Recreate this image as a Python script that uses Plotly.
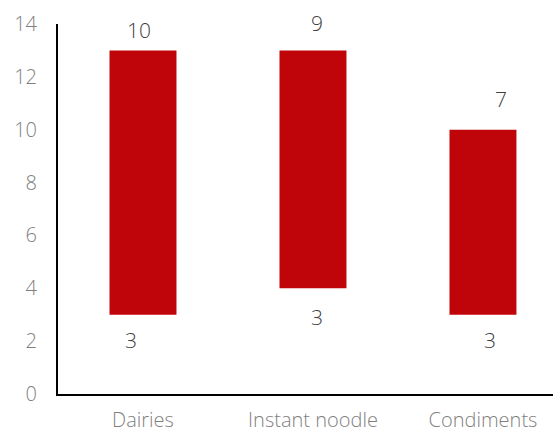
import plotly.graph_objects as go

categories = ["Dairies", "Instant noodle", "Condiments"]
low_values = [3, 4, 3]
high_values = [13, 13, 10]
top_labels = [10, 9, 7]
bottom_labels = [3, 3, 3]
y_ticks = [0, 2, 4, 6, 8, 10, 12, 14]

# label offsets (pixels) to mimic manually placed labels
top_shift = [(-4, 20.5), (4, 27.5), (18.5, 30.5)]
bottom_shift = [(-11.5, -25.5), (4, -28.5), (7, -25.5)]

lengths = [h - l for h, l in zip(high_values, low_values)]

FONT = "Open Sans"
fig = go.Figure()
fig.add_trace(go.Bar(
    x=categories, y=lengths, base=low_values,
    marker=dict(color="#C0050A", line=dict(width=0)),
    width=0.394, hoverinfo="skip",
))

ann = []
for i, c in enumerate(categories):
    ann.append(dict(x=c, y=high_values[i], text=str(top_labels[i]), showarrow=False,
                    xshift=top_shift[i][0], yshift=top_shift[i][1], yanchor="middle",
                    font=dict(family=FONT, size=21, color="#404040", weight=300)))
    ann.append(dict(x=c, y=low_values[i], text=str(bottom_labels[i]), showarrow=False,
                    xshift=bottom_shift[i][0], yshift=bottom_shift[i][1], yanchor="middle",
                    font=dict(family=FONT, size=21, color="#404040", weight=300)))

fig.update_layout(
    width=553, height=432,
    margin=dict(l=58, r=0, t=24, b=38),
    paper_bgcolor="white", plot_bgcolor="white",
    showlegend=False,
    annotations=ann,
    xaxis=dict(range=[-0.5, 2.412], showline=True, linecolor="black", linewidth=2,
               showgrid=False, zeroline=False, ticks="", ticklabelstandoff=7,
               automargin=False,
               tickfont=dict(family=FONT, size=20, color="#7f7f7f", weight=300)),
    yaxis=dict(range=[0, 14], tickvals=y_ticks, showline=True, linecolor="black", linewidth=2,
               showgrid=False, zeroline=False, ticks="", ticklabelstandoff=15,
               automargin=False,
               tickfont=dict(family=FONT, size=20, color="#7f7f7f", weight=300)),
)

fig.write_html("out.html")
